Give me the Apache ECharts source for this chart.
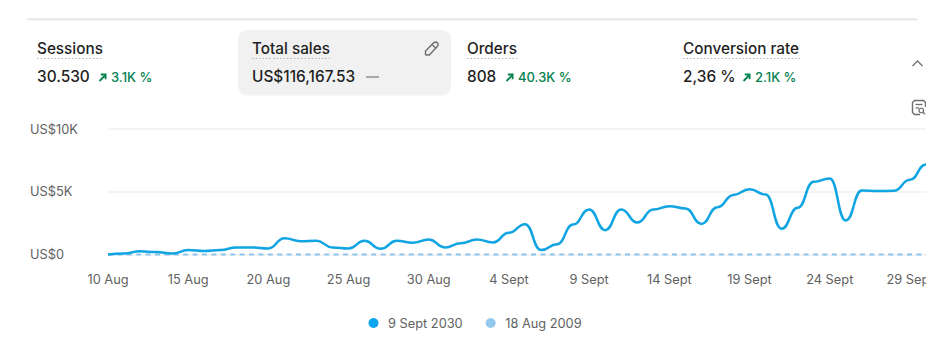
<!DOCTYPE html>
<html><head><meta charset="utf-8">
<style>html,body{margin:0;padding:0;background:#fff}#c{width:945px;height:360px;clip-path:inset(0 19px 0 0)}</style>
<script src="https://cdn.jsdelivr.net/npm/echarts@6/dist/echarts.min.js"></script>
</head><body><div id="c"></div>
<script>
const categories = ['10 Aug','11 Aug','12 Aug','13 Aug','14 Aug','15 Aug','16 Aug','17 Aug','18 Aug','19 Aug','20 Aug','21 Aug','22 Aug','23 Aug','24 Aug','25 Aug','26 Aug','27 Aug','28 Aug','29 Aug','30 Aug','31 Aug','1 Sept','2 Sept','3 Sept','4 Sept','5 Sept','6 Sept','7 Sept','8 Sept','9 Sept','10 Sept','11 Sept','12 Sept','13 Sept','14 Sept','15 Sept','16 Sept','17 Sept','18 Sept','19 Sept','20 Sept','21 Sept','22 Sept','23 Sept','24 Sept','25 Sept','26 Sept','27 Sept','28 Sept','29 Sept','30 Sept','1 Oct'];
const currentSales = [0,80,265,190,80,350,270,350,560,560,480,1300,1060,1090,560,480,1090,450,1090,930,1200,560,900,1200,960,1730,2420,350,820,2390,3590,1940,3590,2550,3590,3850,3670,2440,3770,4750,5200,4780,2050,3720,5790,6060,2710,5100,5050,5070,5950,7170,7170];
const previousSales = [0,0,0,0,0,0,0,0,0,0,0,0,0,0,0,0,0,0,0,0,0,0,0,0,0,0,0,0,0,0,0,0,0,0,0,0,0,0,0,0,0,0,0,0,0,0,0,0,0,0,0,0,0];
const legendNames = ['9 Sept 2030','18 Aug 2009'];
const metricTitles = ['Sessions','Total sales','Orders','Conversion rate'];
const metricValues = ['30.530','US$116,167.53','808','2,36 %'];
const metricDeltas = ['3.1K %','—','40.3K %','2.1K %'];

const FONT = 'Inter';
const INK = '#1f1f1f', MUTED = '#616161', GREEN = '#04804f';
const metricX = [37,252,467,683];
const titleW = [66,78,50,117];
const valueW = [53,103,30,51];

const g = [];
g.push({type:'rect',shape:{x:27,y:18,width:891,height:2.4,r:1.2},style:{fill:'#ebebeb'}});
g.push({type:'rect',shape:{x:238,y:30,width:213,height:65.5,r:9},style:{fill:'#f1f1f1'}});
metricTitles.forEach((t,i)=>{
  const x = metricX[i];
  g.push({type:'text',x,y:48,style:{text:t,font:'500 15.3px '+FONT,fill:INK,verticalAlign:'middle',align:'left'}});
  g.push({type:'line',shape:{x1:x,y1:58.5,x2:x+titleW[i],y2:58.5},style:{stroke:'#b4b4b4',lineWidth:1,lineDash:[1.5,2]}});
  g.push({type:'text',x,y:76.5,style:{text:metricValues[i],font:'500 15.4px '+FONT,fill:INK,verticalAlign:'middle',align:'left'}});
  const dx = x + valueW[i] + 9;
  if (metricDeltas[i] === '—') {
    g.push({type:'rect',shape:{x:x+114,y:76.3,width:13,height:1.4},style:{fill:'#8a8a8a'}});
  } else {
    g.push({type:'polyline',shape:{points:[[dx+0.5,81],[dx+6,75.5]]},style:{stroke:GREEN,lineWidth:1.8,fill:null}});
    g.push({type:'polyline',shape:{points:[[dx+1.8,74.5],[dx+6.6,74.5],[dx+6.6,79.3]]},style:{stroke:GREEN,lineWidth:1.8,fill:null}});
    g.push({type:'text',x:dx+12,y:77,style:{text:metricDeltas[i],font:'500 13px '+FONT,fill:GREEN,verticalAlign:'middle',align:'left'}});
  }
});
// pencil
g.push({type:'polyline',shape:{points:[[425.5,55],[425.5,51],[434,42.5],[436.5,42],[438,43.5],[437.8,46],[429.3,55],[425.5,55]]},style:{stroke:'#6e6e6e',lineWidth:1.4,fill:null}});
g.push({type:'line',shape:{x1:432,y1:44.5,x2:436,y2:48.5},style:{stroke:'#6e6e6e',lineWidth:1.2}});
// chevron
g.push({type:'polyline',shape:{points:[[912.5,66],[917.5,61],[922.5,66]]},style:{stroke:'#7a7a7a',lineWidth:1.5,fill:null}});
// filter-search icon
g.push({type:'polyline',shape:{points:[[920,114.5],[914.5,114.5],[912.5,112.5],[912.5,102.5],[914.5,100.5],[923.5,100.5],[925.5,102.5],[925.5,107]]},style:{stroke:'#6e6e6e',lineWidth:1.4,fill:null}});
g.push({type:'line',shape:{x1:915.5,y1:104.5,x2:922.5,y2:104.5},style:{stroke:'#6e6e6e',lineWidth:1.3}});
g.push({type:'line',shape:{x1:915.5,y1:108,x2:919,y2:108},style:{stroke:'#6e6e6e',lineWidth:1.3}});
g.push({type:'circle',shape:{cx:921.3,cy:110.5,r:2.3},style:{stroke:'#6e6e6e',lineWidth:1.3,fill:'#fff'}});
g.push({type:'line',shape:{x1:923,y1:112.2,x2:925,y2:114.2},style:{stroke:'#6e6e6e',lineWidth:1.3}});

const chart = echarts.init(document.getElementById('c'),null,{renderer:'svg'});
chart.setOption({
  animation:false,
  backgroundColor:'#fff',
  graphic:g,
  grid:{left:108,right:3,top:129,bottom:105.5,containLabel:false},
  legend:{
    left:363.5,top:311.5,itemWidth:10,itemHeight:10,itemGap:23,icon:'circle',
    textStyle:{fontFamily:FONT,fontSize:12.8,color:MUTED,padding:[0,0,0,4.5]},
    data:legendNames
  },
  xAxis:{type:'category',boundaryGap:false,data:categories,
    axisLine:{show:false},axisTick:{show:false},
    axisLabel:{interval:4,margin:18,fontFamily:FONT,fontSize:12.8,color:MUTED,hideOverlap:false}},
  yAxis:{type:'value',min:0,max:10000,interval:5000,
    axisLine:{show:false},axisTick:{show:false},
    splitLine:{lineStyle:{color:'#f0f0f0',width:1.5}},
    axisLabel:{margin:78,align:'left',fontFamily:FONT,fontSize:12.8,color:MUTED,padding:[0,0,2,0],
      formatter:v=>v===0?'US$0':'US$'+(v/1000)+'K'}},
  series:[
    {name:legendNames[1],type:'line',data:previousSales,showSymbol:false,z:2,clip:false,
      itemStyle:{color:'#93c9ef'},lineStyle:{color:'#8fc4ea',width:2,type:[5,4.4]}},
    {name:legendNames[0],type:'line',data:currentSales,smooth:0.5,smoothMonotone:'x',showSymbol:false,z:3,clip:false,
      itemStyle:{color:'#0aa5ee'},lineStyle:{color:'#10a5e2',width:2.5}}
  ]
});
</script></body></html>
